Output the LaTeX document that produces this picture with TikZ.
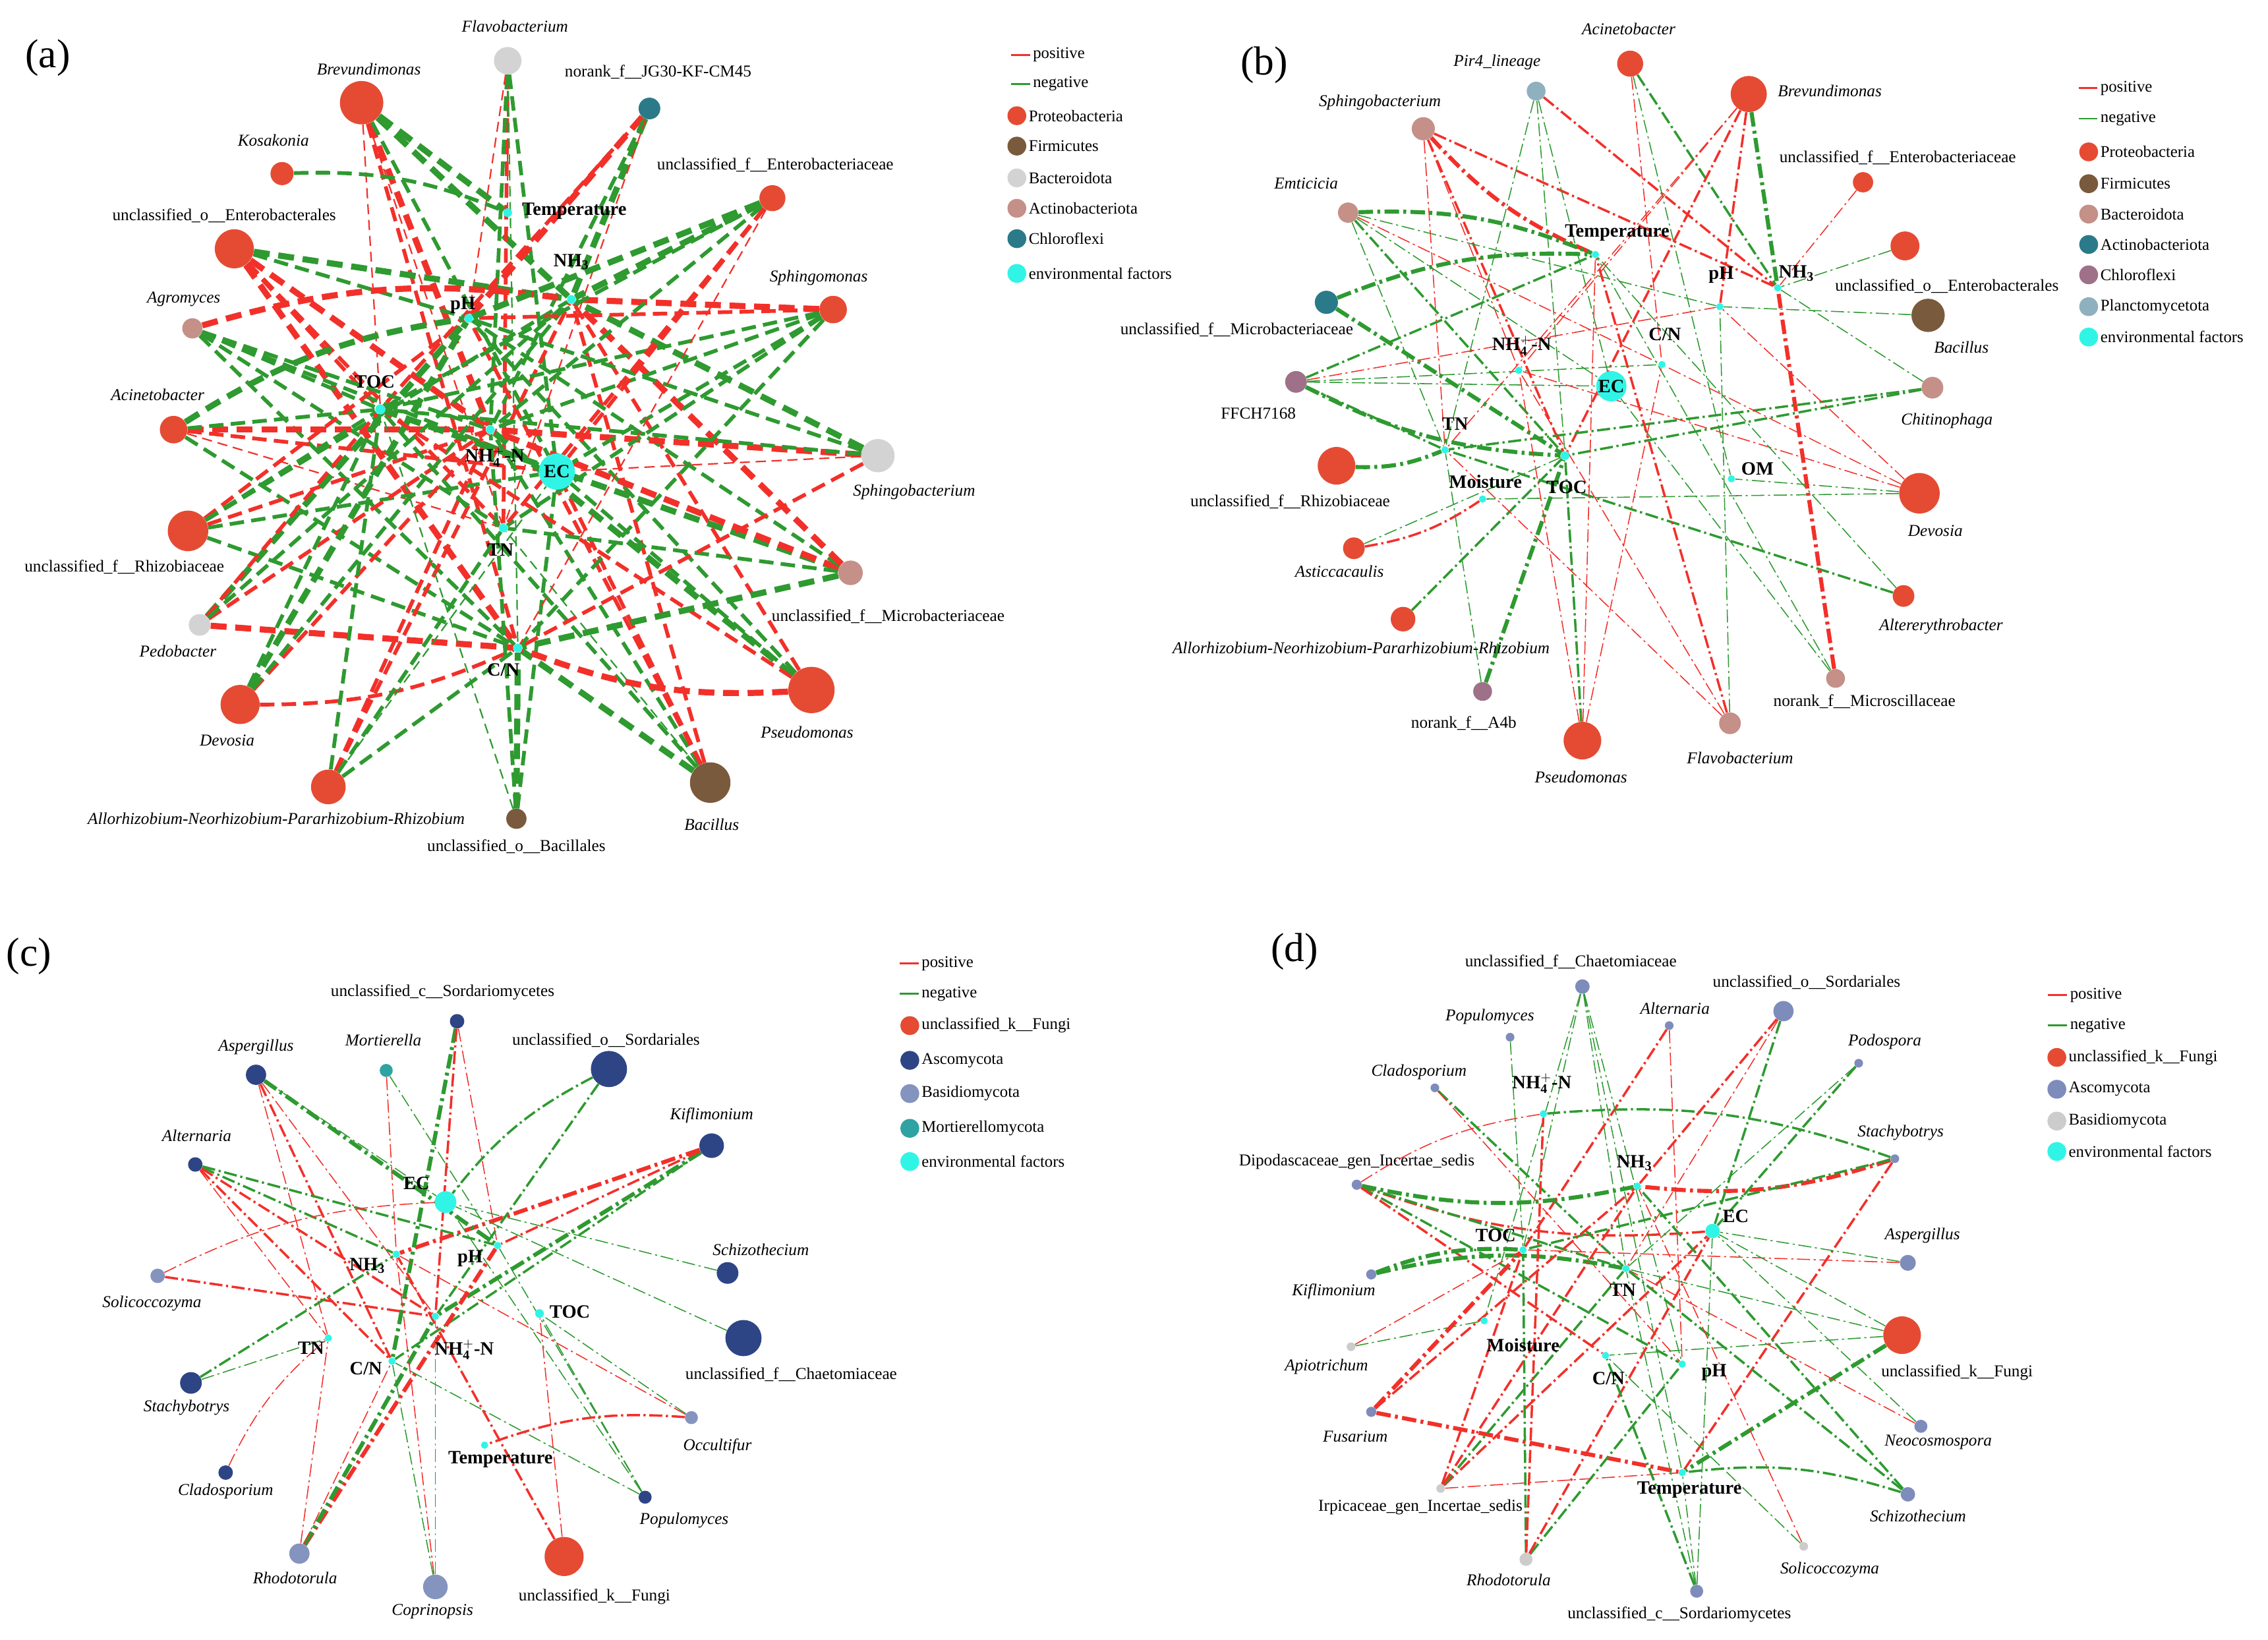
\documentclass[tikz,border=0pt]{standalone}
\usepackage{fontspec}
\setmainfont{Liberation Serif}
\usetikzlibrary{backgrounds}
\definecolor{proteo}{HTML}{E54B33}
\definecolor{firmi}{HTML}{7A5A3C}
\definecolor{bactgray}{HTML}{D3D3D3}
\definecolor{rosy}{HTML}{C49088}
\definecolor{tealc}{HTML}{2B7A89}
\definecolor{mauve}{HTML}{9E7189}
\definecolor{plancto}{HTML}{8FB0BE}
\definecolor{envc}{HTML}{30F5E6}
\definecolor{asco}{HTML}{2E4585}
\definecolor{basid}{HTML}{8593BF}
\definecolor{mort}{HTML}{2FA3A3}
\definecolor{ascod}{HTML}{7E8CBC}
\definecolor{basidd}{HTML}{CCCCCC}
\definecolor{ered}{HTML}{F2302A}
\definecolor{egreen}{HTML}{2E9A30}
\tikzset{
  tnode/.style={circle, inner sep=0pt, draw=none},
  envn/.style={circle, inner sep=0pt, draw=none, fill=envc},
  tlab/.style={font=\fontsize{11.5}{13}\selectfont, inner sep=0pt},
  elab/.style={font=\fontsize{13}{15}\selectfont\bfseries, inner sep=0pt},
  leg/.style={font=\fontsize{11.3}{13}\selectfont, inner sep=0pt},
  plab/.style={font=\fontsize{28}{30}\selectfont, inner sep=0pt},
  p1/.style={draw=ered, line width=1.0pt, dash pattern=on 7pt off 4pt},
  p2/.style={draw=ered, line width=2.6pt, dash pattern=on 10pt off 5pt},
  p3/.style={draw=ered, line width=4.2pt, dash pattern=on 11pt off 6pt},
  n1/.style={draw=egreen, line width=1.0pt, dash pattern=on 7pt off 4pt},
  n2/.style={draw=egreen, line width=2.6pt, dash pattern=on 10pt off 5pt},
  n3/.style={draw=egreen, line width=4.2pt, dash pattern=on 11pt off 6pt},
  q1/.style={draw=ered, line width=0.7pt, dash pattern=on 9pt off 2.5pt on 1.5pt off 2.5pt},
  q2/.style={draw=ered, line width=1.6pt, dash pattern=on 9pt off 2.5pt on 1.5pt off 2.5pt},
  q3/.style={draw=ered, line width=2.8pt, dash pattern=on 10pt off 3pt on 2pt off 3pt},
  m1/.style={draw=egreen, line width=0.7pt, dash pattern=on 9pt off 2.5pt on 1.5pt off 2.5pt},
  m2/.style={draw=egreen, line width=1.6pt, dash pattern=on 9pt off 2.5pt on 1.5pt off 2.5pt},
  m3/.style={draw=egreen, line width=2.8pt, dash pattern=on 10pt off 3pt on 2pt off 3pt},
  bL/.style={bend left=12},
  bR/.style={bend right=12},
  bN/.style={}
}
\newcommand{\taxon}[8]{\node[tnode, minimum size=#4, fill=#5] (#1) at (#2,#3) {}; \node[tlab] (#1-l) at (#6,#7) {#8};}
\newcommand{\envnode}[7]{\node[envn, minimum size=#4] (#1) at (#2,#3) {}; \node[elab] (#1-l) at (#5,#6) {#7};}
\newcommand{\legline}[5]{\coordinate (#1-s) at (#2,#3); \coordinate (#1-e) at (#2+13,#3); \draw[draw=#4, line width=1.3pt] (#1-s) -- (#1-e); \node[leg, anchor=west] (#1) at (#2+15,#3) {#5};}
\newcommand{\legdot}[5]{\node[tnode, minimum size=13, fill=#4] (#1-c) at (#2,#3) {}; \node[leg, anchor=west] (#1) at (#2+8,#3) {#5};}
\newcommand{\NHfour}{NH$_{\mathbf{4}}^{\mathbf{+}}$-N}
\newcommand{\NHthree}{NH\textsubscript{3}}
\begin{document}
\begin{tikzpicture}[x=1pt,y=-1pt]
\useasboundingbox (0,0) rectangle (1568,1133.7);
% ---------------- panel (a)
\node[plab] (pa) at (33,40) {(a)};
\taxon{a-flavo}{351}{42}{19}{bactgray}{356}{18}{\textit{Flavobacterium}}
\taxon{a-jg30}{449}{75}{15}{tealc}{455}{50}{norank\_f\_\_JG30-KF-CM45}
\taxon{a-brev}{250}{71}{30}{proteo}{255}{48}{\textit{Brevundimonas}}
\taxon{a-kosa}{195}{120}{16}{proteo}{189}{97}{\textit{Kosakonia}}
\taxon{a-entf}{534}{137}{18}{proteo}{536}{114}{unclassified\_f\_\_Enterobacteriaceae}
\taxon{a-ento}{162}{172}{27}{proteo}{155}{149}{unclassified\_o\_\_Enterobacterales}
\taxon{a-sphm}{576}{214}{19}{proteo}{566}{192}{\textit{Sphingomonas}}
\taxon{a-agro}{133}{227}{14}{rosy}{127}{207}{\textit{Agromyces}}
\taxon{a-acin}{120}{297}{19}{proteo}{109}{273}{\textit{Acinetobacter}}
\taxon{a-rhiz}{130}{367}{28}{proteo}{86}{392}{unclassified\_f\_\_Rhizobiaceae}
\taxon{a-sphb}{607}{315}{23}{bactgray}{632}{340}{\textit{Sphingobacterium}}
\taxon{a-micr}{588}{396}{17}{rosy}{614}{426}{unclassified\_f\_\_Microbacteriaceae}
\taxon{a-pedo}{138}{432}{15}{bactgray}{123}{450}{\textit{Pedobacter}}
\taxon{a-devo}{166}{487}{27}{proteo}{157}{512}{\textit{Devosia}}
\taxon{a-pseu}{561}{477}{32}{proteo}{558}{506}{\textit{Pseudomonas}}
\taxon{a-allo}{227}{544}{24}{proteo}{191}{566}{\textit{Allorhizobium-Neorhizobium-Pararhizobium-Rhizobium}}
\taxon{a-bacl}{357}{566}{14}{firmi}{357}{585}{unclassified\_o\_\_Bacillales}
\taxon{a-baci}{491}{541}{28}{firmi}{492}{570}{\textit{Bacillus}}
\envnode{a-temp}{351}{147}{6}{397}{146}{Temperature}
\envnode{a-nh3}{395}{207}{6}{395}{181}{\NHthree}
\envnode{a-ph}{324}{220}{6}{320}{211}{pH}
\envnode{a-toc}{263}{283}{7}{259}{264}{TOC}
\envnode{a-nh4}{339}{297}{6}{342}{316}{\NHfour}
\envnode{a-ec}{385}{326}{25}{385}{326}{EC}
\envnode{a-tn}{348}{365}{6}{346}{380}{TN}
\envnode{a-cn}{358}{448}{6}{348}{463}{C/N}
\legline{la-pos}{699}{38}{ered}{positive}
\legline{la-neg}{699}{58}{egreen}{negative}
\legdot{la-pro}{703}{80}{proteo}{Proteobacteria}
\legdot{la-fir}{703}{101}{firmi}{Firmicutes}
\legdot{la-bac}{703}{123}{bactgray}{Bacteroidota}
\legdot{la-act}{703}{144}{rosy}{Actinobacteriota}
\legdot{la-chl}{703}{165}{tealc}{Chloroflexi}
\legdot{la-env}{703}{189}{envc}{environmental factors}
% ---------------- panel (b)
\node[plab] (pb) at (874,45) {(b)};
\taxon{b-acin}{1127}{44}{18}{proteo}{1126}{20}{\textit{Acinetobacter}}
\taxon{b-pir4}{1062}{63}{13}{plancto}{1035}{43}{\textit{Pir4\_lineage}}
\taxon{b-brev}{1209}{65}{25}{proteo}{1265}{63}{\textit{Brevundimonas}}
\taxon{b-sphb}{984}{89}{16}{rosy}{954}{71}{\textit{Sphingobacterium}}
\taxon{b-entf}{1288}{126}{14}{proteo}{1312}{109}{unclassified\_f\_\_Enterobacteriaceae}
\taxon{b-emti}{932}{147}{14}{rosy}{903}{127}{\textit{Emticicia}}
\taxon{b-ento}{1317}{170}{20}{proteo}{1346}{198}{unclassified\_o\_\_Enterobacterales}
\taxon{b-baci}{1333}{218}{23}{firmi}{1356}{240}{\textit{Bacillus}}
\taxon{b-micr}{917}{209}{16}{tealc}{855}{228}{unclassified\_f\_\_Microbacteriaceae}
\taxon{b-ffch}{896}{264}{15}{mauve}{870}{286}{FFCH7168}
\taxon{b-chit}{1336}{268}{15}{rosy}{1346}{291}{\textit{Chitinophaga}}
\taxon{b-rhiz}{924}{322}{26}{proteo}{892}{347}{unclassified\_f\_\_Rhizobiaceae}
\taxon{b-devo}{1327}{341}{28}{proteo}{1338}{367}{\textit{Devosia}}
\taxon{b-asti}{936}{379}{15}{proteo}{926}{395}{\textit{Asticcacaulis}}
\taxon{b-allo}{970}{428}{17}{proteo}{941}{448}{\textit{Allorhizobium-Neorhizobium-Pararhizobium-Rhizobium}}
\taxon{b-alte}{1316}{412}{15}{proteo}{1342}{433}{\textit{Altererythrobacter}}
\taxon{b-a4b}{1025}{478}{13}{mauve}{1012}{500}{norank\_f\_\_A4b}
\taxon{b-mics}{1269}{469}{13}{rosy}{1289}{485}{norank\_f\_\_Microscillaceae}
\taxon{b-pseu}{1094}{512}{26}{proteo}{1093}{537}{\textit{Pseudomonas}}
\taxon{b-flav}{1196}{500}{15}{rosy}{1203}{524}{\textit{Flavobacterium}}
\envnode{b-temp}{1103}{176}{5}{1118}{161}{Temperature}
\envnode{b-ph}{1189}{212}{5}{1190}{190}{pH}
\envnode{b-nh3}{1229}{199}{5}{1242}{189}{\NHthree}
\envnode{b-cn}{1149}{252}{5}{1151}{231}{C/N}
\envnode{b-nh4}{1050}{256}{5}{1052}{239}{\NHfour}
\envnode{b-ec}{1114}{267}{21}{1114}{267}{EC}
\envnode{b-tn}{999}{311}{5}{1006}{293}{TN}
\envnode{b-toc}{1082}{315}{6}{1083}{337}{TOC}
\envnode{b-mois}{1025}{345}{5}{1027}{333}{Moisture}
\envnode{b-om}{1197}{331}{5}{1215}{324}{OM}
\legline{lb-pos}{1437}{61}{ered}{positive}
\legline{lb-neg}{1437}{82}{egreen}{negative}
\legdot{lb-pro}{1444}{105}{proteo}{Proteobacteria}
\legdot{lb-fir}{1444}{127}{firmi}{Firmicutes}
\legdot{lb-bac}{1444}{148}{rosy}{Bacteroidota}
\legdot{lb-act}{1444}{169}{tealc}{Actinobacteriota}
\legdot{lb-chl}{1444}{190}{mauve}{Chloroflexi}
\legdot{lb-pla}{1444}{212}{plancto}{Planctomycetota}
\legdot{lb-env}{1444}{233}{envc}{environmental factors}
% ---------------- panel (c)
\node[plab] (pc) at (20,661) {(c)};
\taxon{c-sord}{316}{706}{10}{asco}{306}{686}{unclassified\_c\_\_Sordariomycetes}
\taxon{c-mort}{267}{740}{9}{mort}{265}{719}{\textit{Mortierella}}
\taxon{c-sorl}{421}{739}{25}{asco}{419}{719}{unclassified\_o\_\_Sordariales}
\taxon{c-aspe}{177}{743}{14}{asco}{177}{724}{\textit{Aspergillus}}
\taxon{c-kifl}{492}{792}{17}{asco}{492}{771}{\textit{Kiflimonium}}
\taxon{c-alte}{135}{805}{10}{asco}{136}{785}{\textit{Alternaria}}
\taxon{c-schi}{503}{880}{15}{asco}{526}{864}{\textit{Schizothecium}}
\taxon{c-soli}{109}{882}{10}{basid}{105}{901}{\textit{Solicoccozyma}}
\taxon{c-chae}{514}{925}{25}{asco}{547}{950}{unclassified\_f\_\_Chaetomiaceae}
\taxon{c-stac}{132}{956}{15}{asco}{129}{973}{\textit{Stachybotrys}}
\taxon{c-occu}{478}{980}{9}{basid}{496}{1000}{\textit{Occultifur}}
\taxon{c-clad}{156}{1018}{10}{asco}{156}{1031}{\textit{Cladosporium}}
\taxon{c-popu}{446}{1035}{9}{asco}{473}{1051}{\textit{Populomyces}}
\taxon{c-rhod}{207}{1074}{14}{basid}{204}{1091}{\textit{Rhodotorula}}
\taxon{c-copr}{301}{1097}{17}{basid}{299}{1114}{\textit{Coprinopsis}}
\taxon{c-fung}{390}{1076}{27}{proteo}{411}{1104}{unclassified\_k\_\_Fungi}
\envnode{c-ec}{308}{831}{15}{288}{818}{EC}
\envnode{c-nh3}{274}{867}{5}{254}{875}{\NHthree}
\envnode{c-ph}{344}{861}{5}{325}{870}{pH}
\envnode{c-toc}{373}{908}{6}{394}{907}{TOC}
\envnode{c-nh4}{301}{910}{5}{321}{933}{\NHfour}
\envnode{c-tn}{227}{925}{5}{215}{932}{TN}
\envnode{c-cn}{271}{941}{5}{253}{946}{C/N}
\envnode{c-temp}{335}{999}{5}{346}{1009}{Temperature}
\legline{lc-pos}{622}{666}{ered}{positive}
\legline{lc-neg}{622}{687}{egreen}{negative}
\legdot{lc-fun}{629}{709}{proteo}{unclassified\_k\_\_Fungi}
\legdot{lc-asc}{629}{733}{asco}{Ascomycota}
\legdot{lc-bas}{629}{756}{basid}{Basidiomycota}
\legdot{lc-mor}{629}{780}{mort}{Mortierellomycota}
\legdot{lc-env}{629}{803}{envc}{environmental factors}
% ---------------- panel (d)
\node[plab] (pd) at (895,658) {(d)};
\taxon{d-chae}{1094}{682}{10}{ascod}{1086}{665}{unclassified\_f\_\_Chaetomiaceae}
\taxon{d-sorl}{1233}{699}{14}{ascod}{1249}{679}{unclassified\_o\_\_Sordariales}
\taxon{d-alte}{1154}{709}{6}{ascod}{1158}{697}{\textit{Alternaria}}
\taxon{d-popu}{1044}{717}{6}{ascod}{1030}{703}{\textit{Populomyces}}
\taxon{d-podo}{1285}{735}{6}{ascod}{1303}{720}{\textit{Podospora}}
\taxon{d-clad}{992}{752}{6}{ascod}{981}{741}{\textit{Cladosporium}}
\taxon{d-stac}{1310}{801}{6}{ascod}{1314}{783}{\textit{Stachybotrys}}
\taxon{d-dipo}{938}{819}{7}{ascod}{938}{803}{Dipodascaceae\_gen\_Incertae\_sedis}
\taxon{d-aspe}{1319}{873}{11}{ascod}{1329}{854}{\textit{Aspergillus}}
\taxon{d-kifl}{948}{881}{7}{ascod}{922}{893}{\textit{Kiflimonium}}
\taxon{d-fung}{1315}{923}{26}{proteo}{1353}{949}{unclassified\_k\_\_Fungi}
\taxon{d-apio}{934}{931}{6}{basidd}{917}{945}{\textit{Apiotrichum}}
\taxon{d-fusa}{948}{976}{7}{ascod}{937}{993}{\textit{Fusarium}}
\taxon{d-neoc}{1328}{986}{9}{ascod}{1340}{997}{\textit{Neocosmospora}}
\taxon{d-irpi}{996}{1029}{6}{basidd}{982}{1042}{Irpicaceae\_gen\_Incertae\_sedis}
\taxon{d-schi}{1319}{1033}{10}{ascod}{1326}{1048}{\textit{Schizothecium}}
\taxon{d-soli}{1247}{1069}{6}{basidd}{1265}{1085}{\textit{Solicoccozyma}}
\taxon{d-rhod}{1055}{1078}{9}{basidd}{1043}{1092}{\textit{Rhodotorula}}
\taxon{d-sord}{1173}{1100}{9}{ascod}{1161}{1116}{unclassified\_c\_\_Sordariomycetes}
\envnode{d-nh4}{1067}{770}{5}{1066}{749}{\NHfour}
\envnode{d-nh3}{1132}{820}{5}{1130}{804}{\NHthree}
\envnode{d-ec}{1184}{851}{10}{1200}{841}{EC}
\envnode{d-toc}{1053}{864}{5}{1034}{854}{TOC}
\envnode{d-tn}{1124}{877}{5}{1122}{892}{TN}
\envnode{d-mois}{1026}{913}{5}{1053}{930}{Moisture}
\envnode{d-cn}{1110}{937}{5}{1112}{953}{C/N}
\envnode{d-ph}{1163}{943}{5}{1185}{949}{pH}
\envnode{d-temp}{1163}{1018}{5}{1168}{1030}{Temperature}
\legline{ld-pos}{1416}{688}{ered}{positive}
\legline{ld-neg}{1416}{709}{egreen}{negative}
\legdot{ld-fun}{1422}{731}{proteo}{unclassified\_k\_\_Fungi}
\legdot{ld-asc}{1422}{753}{ascod}{Ascomycota}
\legdot{ld-bas}{1422}{775}{basidd}{Basidiomycota}
\legdot{ld-env}{1422}{796}{envc}{environmental factors}
% ---------------- edges
\begin{scope}[on background layer]
\fill[white] (0,0) rectangle (1568,1133.7);
\foreach \s/\t/\st/\bd in {
a-brev/a-nh3/n3/bN, a-brev/a-temp/n3/bN, a-brev/a-nh4/p3/bN, a-brev/a-toc/p1/bN, a-brev/a-tn/p1/bN, a-brev/a-ec/n2/bN, a-brev/a-cn/p2/bN,
a-flavo/a-tn/p2/bN, a-flavo/a-temp/p1/bN, a-flavo/a-nh4/n2/bN, a-flavo/a-ec/n2/bN, a-flavo/a-ph/p1/bN, a-flavo/a-cn/n1/bN,
a-jg30/a-ph/p3/bN, a-jg30/a-nh3/n3/bN, a-jg30/a-nh4/n2/bN, a-jg30/a-toc/p2/bN, a-jg30/a-tn/p1/bN,
a-kosa/a-temp/n2/bL,
a-ento/a-nh3/n3/bN, a-ento/a-nh4/p3/bN, a-ento/a-tn/p2/bN, a-ento/a-cn/p3/bN, a-ento/a-toc/p2/bN, a-ento/a-ph/n2/bN,
a-agro/a-nh3/p3/bL, a-agro/a-tn/n2/bN, a-agro/a-ec/n2/bN, a-agro/a-cn/n2/bN, a-agro/a-toc/n2/bN, a-agro/a-nh4/n2/bN,
a-acin/a-ph/n3/bL, a-acin/a-nh4/p3/bN, a-acin/a-tn/p1/bN, a-acin/a-cn/n2/bN, a-acin/a-toc/n2/bN, a-acin/a-ec/p2/bN,
a-rhiz/a-ec/n2/bN, a-rhiz/a-ph/p2/bN, a-rhiz/a-toc/n2/bN, a-rhiz/a-nh3/n2/bN, a-rhiz/a-nh4/p2/bN, a-rhiz/a-cn/n2/bN,
a-pedo/a-cn/p3/bN, a-pedo/a-ph/n3/bN, a-pedo/a-toc/p2/bN, a-pedo/a-nh4/p2/bN, a-pedo/a-nh3/n2/bN,
a-devo/a-ph/n3/bN, a-devo/a-nh4/p2/bN, a-devo/a-cn/p2/bR, a-devo/a-toc/n2/bN, a-devo/a-nh3/n2/bN,
a-allo/a-nh3/p2/bN, a-allo/a-toc/n2/bN, a-allo/a-ec/n1/bN, a-allo/a-nh4/p2/bN, a-allo/a-tn/n2/bN, a-allo/a-cn/n2/bN,
a-bacl/a-nh4/n2/bN, a-bacl/a-cn/n3/bN, a-bacl/a-ec/n2/bN, a-bacl/a-toc/n1/bN,
a-baci/a-ec/p2/bN, a-baci/a-toc/n2/bN, a-baci/a-cn/n3/bN, a-baci/a-nh3/p2/bN, a-baci/a-nh4/n2/bN, a-baci/a-tn/n1/bN, a-baci/a-ph/p2/bN,
a-pseu/a-cn/p3/bL, a-pseu/a-nh4/n3/bN, a-pseu/a-toc/p2/bN, a-pseu/a-ph/n2/bN, a-pseu/a-nh3/p2/bN, a-pseu/a-ec/n2/bN,
a-micr/a-toc/n3/bN, a-micr/a-nh4/p3/bN, a-micr/a-ph/n2/bN, a-micr/a-cn/n3/bN, a-micr/a-nh3/p3/bN, a-micr/a-tn/n2/bN,
a-sphb/a-nh4/p3/bN, a-sphb/a-toc/n2/bN, a-sphb/a-ec/p1/bN, a-sphb/a-cn/p2/bN, a-sphb/a-ph/n2/bN, a-sphb/a-nh3/n3/bN,
a-sphm/a-nh3/p3/bN, a-sphm/a-toc/n2/bN, a-sphm/a-ph/p2/bN, a-sphm/a-cn/n2/bN, a-sphm/a-tn/n2/bN, a-sphm/a-nh4/n2/bN, a-sphm/a-ec/n2/bN,
a-entf/a-ph/n3/bN, a-entf/a-nh3/n3/bN, a-entf/a-tn/p2/bN, a-entf/a-nh4/n2/bN, a-entf/a-cn/p1/bN, a-entf/a-toc/n2/bN, a-entf/a-ec/p2/bN,
b-sphb/b-temp/q3/bR, b-sphb/b-nh3/q2/bN, b-sphb/b-toc/q2/bN, b-sphb/b-tn/q1/bN, b-sphb/b-nh4/q1/bN,
b-pir4/b-nh3/q2/bN, b-pir4/b-ec/m1/bN, b-pir4/b-tn/m1/bN, b-pir4/b-toc/m1/bN,
b-acin/b-nh3/m2/bN, b-acin/b-om/m1/bN, b-acin/b-cn/q1/bN,
b-brev/b-ph/q2/bN, b-brev/b-toc/q2/bN, b-brev/b-nh3/m3/bN, b-brev/b-tn/q1/bN, b-brev/b-nh4/q1/bN,
b-entf/b-nh3/q1/bN, b-ento/b-nh3/m1/bN, b-baci/b-ph/m1/bN,
b-emti/b-temp/m3/bL, b-emti/b-tn/m1/bN, b-emti/b-toc/m2/bN, b-emti/b-cn/q1/bN, b-emti/b-ec/m1/bN, b-emti/b-ph/m1/bN,
b-micr/b-temp/m3/bL, b-micr/b-toc/m3/bN,
b-ffch/b-temp/m2/bN, b-ffch/b-tn/m2/bN, b-ffch/b-ph/q1/bN, b-ffch/b-ec/m1/bN, b-ffch/b-toc/m3/bR, b-ffch/b-cn/m1/bN,
b-rhiz/b-tn/m3/bR,
b-chit/b-toc/m2/bN, b-chit/b-tn/m2/bN, b-chit/b-nh3/m1/bN,
b-devo/b-nh4/q1/bN, b-devo/b-cn/q1/bN, b-devo/b-ph/q1/bN, b-devo/b-mois/m1/bN, b-devo/b-om/m1/bN,
b-asti/b-mois/q2/bR, b-asti/b-toc/m1/bN,
b-allo/b-toc/m2/bN,
b-alte/b-tn/m2/bN, b-alte/b-temp/m1/bN,
b-a4b/b-toc/m3/bN, b-a4b/b-tn/m1/bN,
b-mics/b-nh3/q3/bN, b-mics/b-ec/m1/bN, b-mics/b-temp/m1/bN,
b-pseu/b-toc/m2/bN, b-pseu/b-temp/q1/bN, b-pseu/b-nh4/q1/bN, b-pseu/b-cn/q1/bN,
b-flav/b-temp/q2/bN, b-flav/b-ph/m1/bN, b-flav/b-tn/q1/bN, b-flav/b-nh4/q1/bN,
c-kifl/c-nh3/q3/bN, c-kifl/c-nh4/m3/bN, c-kifl/c-cn/m2/bN, c-kifl/c-ph/q2/bN,
c-sord/c-cn/m3/bN, c-sord/c-nh4/q2/bN, c-sord/c-ph/q1/bN,
c-sorl/c-ec/m2/bR, c-sorl/c-nh4/m2/bN,
c-aspe/c-cn/q2/bN, c-aspe/c-nh4/q1/bN, c-aspe/c-ph/m3/bN, c-aspe/c-tn/q1/bN, c-aspe/c-ec/m1/bN,
c-alte/c-ph/m2/bN, c-alte/c-nh3/m2/bN, c-alte/c-nh4/q2/bN, c-alte/c-cn/q2/bN, c-alte/c-tn/q1/bN,
c-mort/c-nh3/q1/bN, c-mort/c-ph/m1/bN,
c-soli/c-ec/q1/bL, c-soli/c-nh4/q2/bN,
c-stac/c-nh3/m2/bN, c-stac/c-tn/m1/bN,
c-clad/c-tn/q1/bL,
c-rhod/c-ph/q3/bN, c-rhod/c-nh4/m3/bN, c-rhod/c-tn/q1/bN, c-rhod/c-cn/q1/bN,
c-copr/c-nh3/q1/bN, c-copr/c-nh4/m1/bN, c-copr/c-cn/m1/bN,
c-fung/c-nh3/q2/bN, c-fung/c-toc/q1/bN,
c-popu/c-ec/m1/bN, c-popu/c-toc/m1/bN, c-popu/c-cn/m1/bN, c-popu/c-ph/m1/bN,
c-occu/c-temp/q2/bR, c-occu/c-nh3/q1/bN, c-occu/c-toc/m1/bN,
c-chae/c-ec/m1/bN, c-schi/c-ec/m1/bN,
d-dipo/d-nh3/m3/bR, d-dipo/d-ec/q2/bR, d-dipo/d-tn/m2/bN, d-dipo/d-nh4/q1/bL, d-dipo/d-ph/m2/bN, d-dipo/d-cn/q2/bN,
d-stac/d-nh3/q3/bL, d-stac/d-nh4/m2/bR, d-stac/d-toc/m2/bN, d-stac/d-temp/q2/bN,
d-sorl/d-nh3/q2/bN, d-sorl/d-tn/q1/bN, d-sorl/d-ec/m2/bN,
d-alte/d-toc/q2/bN, d-alte/d-ph/q1/bN,
d-chae/d-toc/m1/bN, d-chae/d-tn/m1/bN, d-chae/d-mois/m1/bN, d-chae/d-ph/m1/bN, d-chae/d-temp/m1/bN,
d-popu/d-toc/m1/bN,
d-podo/d-tn/m1/bN, d-podo/d-ec/m2/bN,
d-clad/d-tn/m2/bN, d-clad/d-ph/q1/bN,
d-aspe/d-ec/m1/bN, d-aspe/d-toc/q1/bN,
d-kifl/d-toc/m3/bL, d-kifl/d-tn/m3/bL,
d-fung/d-ec/m1/bN, d-fung/d-cn/m1/bN, d-fung/d-temp/m3/bN, d-fung/d-tn/m1/bN,
d-apio/d-toc/q1/bN, d-apio/d-mois/m1/bN,
d-fusa/d-toc/q3/bN, d-fusa/d-temp/q3/bN, d-fusa/d-nh3/q2/bN,
d-neoc/d-tn/q1/bN, d-neoc/d-ec/m1/bN,
d-irpi/d-toc/q2/bN, d-irpi/d-ec/q2/bN, d-irpi/d-tn/m2/bN, d-irpi/d-temp/q1/bN, d-irpi/d-nh3/q2/bN,
d-schi/d-temp/m2/bR, d-schi/d-nh3/m2/bN, d-schi/d-tn/m2/bN,
d-soli/d-nh3/q1/bN, d-soli/d-cn/m1/bN,
d-rhod/d-toc/m2/bN, d-rhod/d-nh4/q2/bN, d-rhod/d-ph/m2/bN, d-rhod/d-ec/q2/bN,
d-sord/d-cn/m2/bN, d-sord/d-temp/m1/bN, d-sord/d-tn/m1/bN, d-sord/d-ec/m1/bN}
{\draw[\st] (\s) to[\bd] (\t);}
\end{scope}
\end{tikzpicture}
\end{document}
